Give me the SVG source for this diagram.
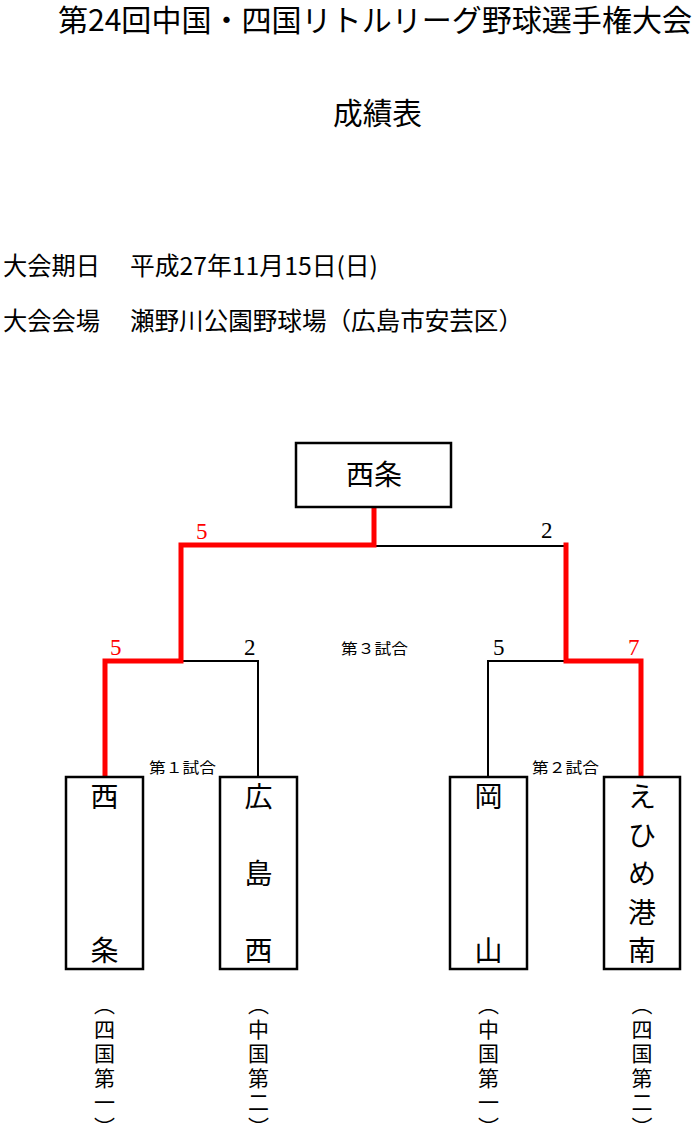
<svg xmlns="http://www.w3.org/2000/svg" width="700" height="1126" viewBox="0 0 700 1126">
<style>
  text { font-family: "Noto Sans CJK JP", "Noto Sans CJK SC", sans-serif; fill: #000; }
  .title { font-size: 30px; }
  .info { font-size: 24.5px; }
  .team { font-size: 28px; text-anchor: middle; }
  .game { font-size: 15px; }
  .score { font-family: "Liberation Serif", "Noto Sans CJK JP", serif; font-size: 23px; }
  .win { fill: #ff0000; }
  .box { fill: #fff; stroke: #000; stroke-width: 2.5; }
  .red { fill: none; stroke: #ff0000; stroke-width: 5; stroke-linejoin: miter; stroke-linecap: square; }
  .blk { fill: none; stroke: #000; stroke-width: 2; }
  .vert { font-size: 21px; letter-spacing: 3.5px; writing-mode: vertical-rl; }
</style>
<rect width="700" height="1126" fill="#fff"/>
<g id="header">
  <text class="title" x="58" y="31" textLength="634" lengthAdjust="spacingAndGlyphs">第24回中国・四国リトルリーグ野球選手権大会</text>
  <text class="title" x="333" y="124" textLength="89" lengthAdjust="spacingAndGlyphs">成績表</text>
  <text class="info" x="3" y="275" textLength="97" lengthAdjust="spacingAndGlyphs">大会期日</text>
  <text class="info" x="130" y="275" textLength="248" lengthAdjust="spacingAndGlyphs">平成27年11月15日(日)</text>
  <text class="info" x="3" y="330" textLength="97" lengthAdjust="spacingAndGlyphs">大会会場</text>
  <text class="info" x="130" y="330" textLength="393" lengthAdjust="spacingAndGlyphs">瀬野川公園野球場（広島市安芸区）</text>
</g>
<g id="connectors">
  <path class="blk" d="M374,546 H566"/>
  <path class="blk" d="M181,661 H258 V777"/>
  <path class="blk" d="M566,661 H488 V777"/>
  <path class="red" d="M374,509 V545 H181 V661 H105 V776"/>
  <path class="red" d="M566,545 V661 H641 V776"/>
</g>
<g id="scores">
  <text class="score win" x="196" y="539">5</text>
  <text class="score" x="541" y="538">2</text>
  <text class="score win" x="110" y="655">5</text>
  <text class="score" x="244" y="655">2</text>
  <text class="score" x="493" y="655">5</text>
  <text class="score win" x="628" y="655">7</text>
  <text class="game" x="341" y="654" textLength="67" lengthAdjust="spacingAndGlyphs">第３試合</text>
  <text class="game" x="149" y="773" textLength="67" lengthAdjust="spacingAndGlyphs">第１試合</text>
  <text class="game" x="532" y="773" textLength="67" lengthAdjust="spacingAndGlyphs">第２試合</text>
</g>
<g id="node-champion">
  <rect class="box" x="296" y="443" width="155" height="64"/>
  <text class="team" x="374" y="485">西条</text>
</g>
<g id="node-saijo">
  <rect class="box" x="66" y="777" width="77" height="192"/>
  <text class="team" x="104.5" y="807">西</text>
  <text class="team" x="104.5" y="961">条</text>
  <text class="vert" x="104.5" y="994">（四国第一）</text>
</g>
<g id="node-hiroshimanishi">
  <rect class="box" x="220" y="777" width="77" height="192"/>
  <text class="team" x="258.5" y="807">広</text>
  <text class="team" x="258.5" y="884">島</text>
  <text class="team" x="258.5" y="961">西</text>
  <text class="vert" x="258.5" y="994">（中国第二）</text>
</g>
<g id="node-okayama">
  <rect class="box" x="450" y="777" width="77" height="192"/>
  <text class="team" x="488.5" y="807">岡</text>
  <text class="team" x="488.5" y="961">山</text>
  <text class="vert" x="488.5" y="994">（中国第一）</text>
</g>
<g id="node-ehimekonan">
  <rect class="box" x="604" y="777" width="76" height="192"/>
  <text class="team" x="642" y="807">え</text>
  <text class="team" x="642" y="845.5">ひ</text>
  <text class="team" x="642" y="884">め</text>
  <text class="team" x="642" y="922.5">港</text>
  <text class="team" x="642" y="961">南</text>
  <text class="vert" x="642" y="994">（四国第二）</text>
</g>
</svg>
